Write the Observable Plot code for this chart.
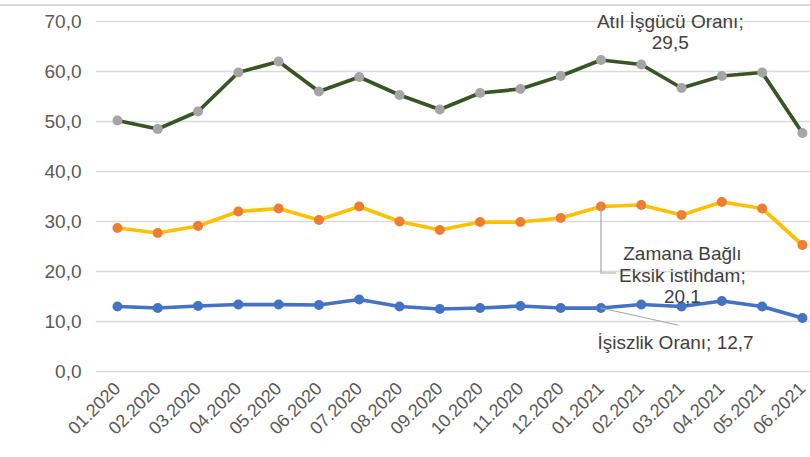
<!DOCTYPE html>
<html><head><meta charset="utf-8">
<script src="https://cdn.jsdelivr.net/npm/d3@7"></script>
<script src="https://cdn.jsdelivr.net/npm/@observablehq/plot@0.6"></script>
<style>
body{margin:0;background:#fff;font-family:"Liberation Sans",Arial,sans-serif}
#gap{height:4px}
#rule{height:2px;background:#d9d9d9;width:810px}
</style>
</head><body><div id="gap"></div><div id="rule"></div><div id="chart"></div>
<script>
const months = ["01.2020","02.2020","03.2020","04.2020","05.2020","06.2020","07.2020","08.2020","09.2020","10.2020","11.2020","12.2020","01.2021","02.2021","03.2021","04.2021","05.2021","06.2021"];
const atil = [50.2,48.5,52.0,59.8,62.0,56.0,58.9,55.3,52.4,55.7,56.5,59.1,62.3,61.4,56.7,59.1,59.8,47.7];
const zamana = [28.7,27.7,29.1,32.0,32.6,30.3,33.0,30.0,28.3,29.9,29.9,30.7,33.0,33.3,31.3,33.9,32.6,25.3];
const issizlik = [13.0,12.7,13.1,13.4,13.4,13.3,14.4,13.0,12.5,12.7,13.1,12.7,12.7,13.4,13.0,14.1,13.0,10.7];
const seriesNames = ["Atıl İşgücü Oranı","Zamana Bağlı Eksik istihdam","İşsizlik Oranı"];
const lineColors = ["#375623","#ffc000","#4472c4"];
const dotColors = ["#a5a5a5","#ed7d31","#4472c4"];
const yTicks = [0,10,20,30,40,50,60,70];
const labelTexts = ["Atıl İşgücü Oranı;\n29,5","Zamana Bağlı\nEksik istihdam;\n20,1","İşiszlik Oranı; 12,7"];
const labelX = [13.72, 14.02, 13.85];
const labelY = [68.0, 19.4, 6.0];
const leaderZamana = [[12,33.0],[12,19.7],[12.36,19.7]];
const leaderIssizlik = [[12,12.7],[13.9,9.3]];

const allSeries = [atil, zamana, issizlik];
const rows = allSeries.flatMap((vals, s) => vals.map((v, i) => ({i, v, s})));
const labels = labelTexts.map((t, k) => ({t, i: labelX[k], v: labelY[k]}));
const leaders = [
  ...leaderZamana.map(([i, v]) => ({i, v, g: 0})),
  ...leaderIssizlik.map(([i, v]) => ({i, v, g: 1}))
];

const marks = [
  Plot.gridY(yTicks, {stroke: "#d9d9d9", strokeOpacity: 1, strokeWidth: 1.5}),
  Plot.axisY({ticks: yTicks, tickSize: 0, tickPadding: 15, tickFormat: d => d.toFixed(1).replace(".", ","), fill: "#595959", label: null, fontSize: 19}),
  Plot.axisX({ticks: d3.range(months.length), tickSize: 0, tickPadding: 14, tickRotate: -45, tickFormat: i => months[i], fill: "#595959", label: null, fontSize: 18})
];
allSeries.forEach((vals, s) => {
  const d = rows.filter(r => r.s === s);
  marks.push(Plot.line(d, {x: "i", y: "v", stroke: lineColors[s], strokeWidth: 3.75}));
  marks.push(Plot.dot(d, {x: "i", y: "v", r: 5, fill: dotColors[s], stroke: "none"}));
});
marks.push(Plot.line(leaders, {x: "i", y: "v", z: "g", stroke: "#a6a6a6", strokeWidth: 1.2}));
marks.push(Plot.text(labels, {x: "i", y: "v", text: "t", fill: "#404040", fontSize: 19, lineHeight: 1.15, lineAnchor: "middle", textAnchor: "middle"}));

const chart = Plot.plot({
  width: 810,
  height: 451,
  marginTop: 15,
  marginBottom: 86,
  marginLeft: 96,
  marginRight: 0,
  style: {fontFamily: "'Liberation Sans', Arial, sans-serif", fontSize: "19px", background: "#fff"},
  x: {type: "linear", domain: [-0.52, 17.2]},
  y: {domain: [0, 70]},
  marks
});
document.getElementById("chart").appendChild(chart);
</script>
</body></html>
